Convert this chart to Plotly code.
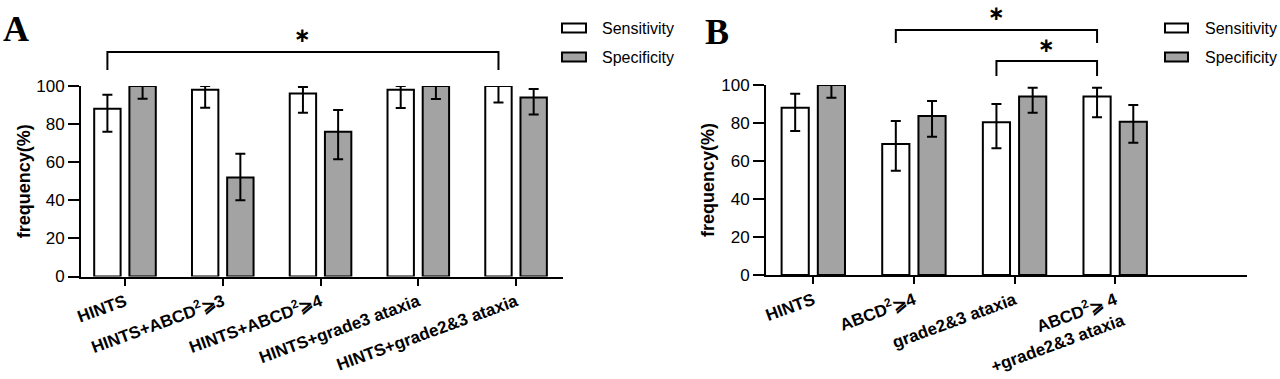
import plotly.graph_objects as go

# ---------------- data ----------------
cats_a = ["HINTS", "HINTS+ABCD<sup>2</sup>⩾3", "HINTS+ABCD<sup>2</sup>⩾4",
          "HINTS+grade3 ataxia", "HINTS+grade2&3 ataxia"]
sens_a = [88, 98, 96, 98, 100]
sens_a_hi = [95.4, 100, 99.5, 100, 100]
sens_a_lo = [76, 88.6, 86, 88.5, 91.4]
spec_a = [100, 52, 76, 100, 94]
spec_a_hi = [100, 64.4, 87.4, 100, 98.4]
spec_a_lo = [93.3, 40, 61.6, 93.2, 85]

cats_b = ["HINTS", "ABCD<sup>2</sup>⩾4", "grade2&3 ataxia",
          "ABCD<sup>2</sup>⩾ 4<br>+grade2&3 ataxia"]
sens_b = [88, 69, 80.4, 94]
sens_b_hi = [95.4, 81.1, 90, 98.6]
sens_b_lo = [75.8, 54.9, 66.7, 83]
spec_b = [100, 83.7, 94, 80.7]
spec_b_hi = [100, 91.6, 98.6, 89.5]
spec_b_lo = [93.3, 72.8, 85.4, 69.6]

y_ticks = [0, 20, 40, 60, 80, 100]
y_range = [0, 100]
series_names = ["Sensitivity", "Specificity"]

# significance brackets: (from category, to category, bar height, leg end, star height) in data units
brackets_a = [(0, 4, 117.8, 108.4, 126.8)]
brackets_b = [(1, 3, 128.9, 122.1, 138.0), (2, 3, 112.6, 104.7, 121.0)]

# ---------------- style ----------------
W, H = 1280, 379
FONT = "Liberation Sans"
GREY = "#a3a3a3"
BW = 0.27
OFF = 0.18


def px(x, y):
    return x / W, 1 - y / H


def dom(v):
    return (v - y_range[0]) / (y_range[1] - y_range[0])


fig = go.Figure()


def add_panel(cats, sens, sh, sl, spec, ph, pl, xa, ya):
    xs = list(range(len(cats)))
    for name, vals, hi, lo, col, off in [
        (series_names[0], sens, sh, sl, "white", -OFF - BW / 2),
        (series_names[1], spec, ph, pl, GREY, OFF - BW / 2),
    ]:
        fig.add_trace(go.Bar(
            x=xs, y=vals, name=name, width=BW, offset=off,
            marker=dict(color=col, line=dict(color="black", width=2)),
            error_y=dict(type="data", symmetric=False,
                         array=[h - v for h, v in zip(hi, vals)],
                         arrayminus=[v - l for v, l in zip(vals, lo)],
                         color="black", thickness=2, width=5),
            xaxis=xa, yaxis=ya, showlegend=False, cliponaxis=False))


add_panel(cats_a, sens_a, sens_a_hi, sens_a_lo, spec_a, spec_a_hi, spec_a_lo, "x", "y")
add_panel(cats_b, sens_b, sens_b_hi, sens_b_lo, spec_b, spec_b_hi, spec_b_lo, "x2", "y2")

line_common = dict(showline=True, linecolor="black", linewidth=2, showgrid=False,
                   zeroline=False, ticks="outside", tickcolor="black", tickwidth=2,
                   automargin=False)
xfont = dict(family=FONT, size=17, color="black", weight="bold")
yfont = dict(family=FONT, size=17, color="black")
tfont = dict(family=FONT, size=18, color="black", weight="bold")

xa_dom = [81 / W, 563 / W]
xb_dom = [766 / W, 1247 / W]
ya_dom = [1 - 276.5 / H, 1 - 86 / H]
yb_dom = [1 - 275 / H, 1 - 85 / H]

fig.update_layout(
    width=W, height=H, autosize=False,
    margin=dict(l=0, r=0, t=0, b=0, pad=0),
    paper_bgcolor="white", plot_bgcolor="white",
    xaxis=dict(domain=xa_dom, anchor="y", range=[-0.45, 4.48],
               tickvals=list(range(len(cats_a))), ticktext=cats_a, tickangle=-20,
               ticklen=7, tickfont=xfont, **line_common),
    yaxis=dict(domain=ya_dom, anchor="x", range=y_range, tickvals=y_ticks,
               ticklen=11, tickfont=yfont, **line_common,
               title=dict(text="frequency(%)", standoff=1, font=tfont)),
    xaxis2=dict(domain=xb_dom, anchor="y2", range=[-0.47, 4.31],
                tickvals=list(range(len(cats_b))), ticktext=cats_b, tickangle=-20,
                ticklen=7, tickfont=xfont, **line_common),
    yaxis2=dict(domain=yb_dom, anchor="x2", range=y_range, tickvals=y_ticks,
                ticklen=11, tickfont=yfont, **line_common,
                title=dict(text="frequency(%)", standoff=2, font=tfont)),
)

shapes = []
annotations = []

# brackets + stars
for brs, xr, yr in [(brackets_a, "x", "y domain"), (brackets_b, "x2", "y2 domain")]:
    for c0, c1, h, leg, star in brs:
        x0, x1 = c0 - OFF, c1 - OFF
        hd, ld = dom(h), dom(leg)
        shapes.append(dict(type="path", xref=xr, yref=yr,
                           path=f"M {x0},{ld} L {x0},{hd} L {x1},{hd} L {x1},{ld}",
                           line=dict(color="black", width=2)))
        annotations.append(dict(xref=xr, yref=yr, x=(x0 + x1) / 2, y=dom(star),
                                yanchor="middle", xanchor="center", showarrow=False,
                                text="<b>∗</b>",
                                font=dict(family="DejaVu Sans", size=20, color="black")))

# legends
for bx0, bx1, tx in [(562, 586, 600), (1165, 1188, 1203)]:
    for yc, col, name in [(28, "white", series_names[0]), (57, GREY, series_names[1])]:
        x0, y0 = px(bx0, yc + 4.5)
        x1, y1 = px(bx1, yc - 4.5)
        shapes.append(dict(type="rect", xref="paper", yref="paper",
                           x0=x0, x1=x1, y0=y0, y1=y1, fillcolor=col,
                           line=dict(color="black", width=2)))
        xt, yt = px(tx, yc)
        annotations.append(dict(xref="paper", yref="paper", x=xt, y=yt,
                                xanchor="left", yanchor="middle", showarrow=False,
                                text=name, font=dict(family=FONT, size=16, color="black")))

# panel letters
for letter, (lx, ly) in [("A", (16, 29)), ("B", (717, 32))]:
    x, y = px(lx, ly)
    annotations.append(dict(xref="paper", yref="paper", x=x, y=y, xanchor="center",
                            yanchor="middle", showarrow=False, text=f"<b>{letter}</b>",
                            font=dict(family="Liberation Serif", size=36, color="black")))

fig.update_layout(shapes=shapes, annotations=annotations)
fig.write_html("out.html", config={"displayModeBar": False},
               post_script="document.body.style.margin='0px';")
